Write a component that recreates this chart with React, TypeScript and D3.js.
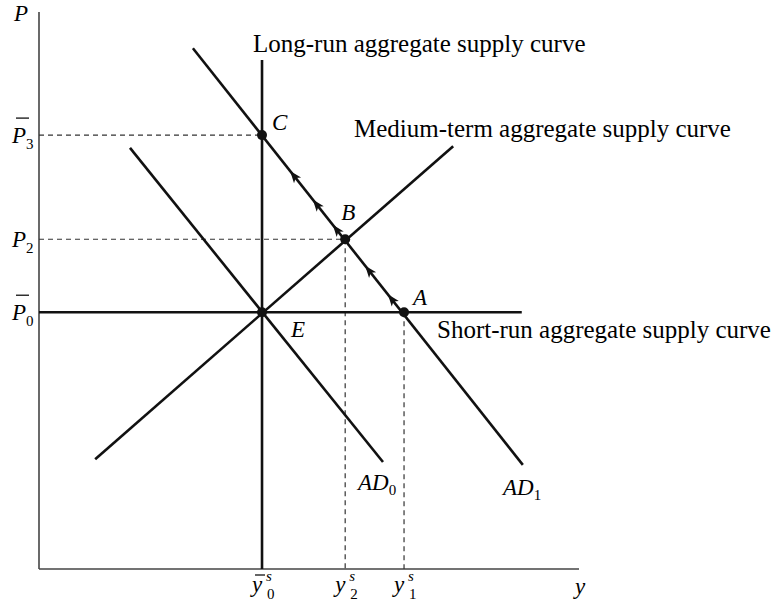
import React from 'react';
import * as d3 from 'd3';

const W = 778;
const H = 603;

// output levels (x data units)
const outputLevels = [
  { key: 'y0', value: 41.3, sub: '0', bar: true },
  { key: 'y2', value: 56.7, sub: '2', bar: false },
  { key: 'y1', value: 67.6, sub: '1', bar: false },
];
// price levels (y data units)
const priceLevels = [
  { key: 'P3', value: 77.9, sub: '3', bar: true },
  { key: 'P2', value: 59.2, sub: '2', bar: false },
  { key: 'P0', value: 46.1, sub: '0', bar: true },
];
// equilibrium points
const points = [
  { name: 'E', x: 41.3, y: 46.1, dx: 29, dy: 25 },
  { name: 'A', x: 67.6, y: 46.1, dx: 9, dy: -7 },
  { name: 'B', x: 56.7, y: 59.2, dx: -4, dy: -19 },
  { name: 'C', x: 41.3, y: 77.9, dx: 10, dy: -5 },
];
// curves (segment endpoints, data units)
const lras: [number, number][] = [[41.3, 0], [41.3, 91.4]];
const sras: [number, number][] = [[0, 46.1], [89.4, 46.1]];
const mtas: [number, number][] = [[10.4, 19.7], [76.7, 75.9]];
const ad0: [number, number][] = [[16.85, 75.6], [63.7, 19.2]];
const ad1: [number, number][] = [[28.5, 93.5], [89.6, 18.7]];
// arrow positions along AD1 (x data units)
const arrowXs = [64.6, 60.4, 54.4, 50.7, 46.5];
// dashed guides
const dashed: [number, number][][] = [
  [[0, 77.9], [41.3, 77.9]],
  [[0, 59.2], [56.7, 59.2]],
  [[56.7, 59.2], [56.7, 0]],
  [[67.6, 46.1], [67.6, 0]],
];

const SERIF = '"Liberation Serif", "Times New Roman", serif';

export default function App() {
  const x = d3.scaleLinear().domain([0, 100]).range([39, 579]);
  const y = d3.scaleLinear().domain([0, 100]).range([569, 12]);
  const line = d3
    .line<[number, number]>()
    .x((d) => x(d[0]))
    .y((d) => y(d[1]));

  const ad1At = (xv: number) => {
    const [[x0, y0], [x1, y1]] = ad1;
    return y0 + ((xv - x0) / (x1 - x0)) * (y1 - y0);
  };
  const ang =
    (Math.atan2(y(ad1[0][1]) - y(ad1[1][1]), x(ad1[0][0]) - x(ad1[1][0])) * 180) /
    Math.PI;

  const curveStyle = { stroke: '#111', strokeWidth: 2.6, fill: 'none' };

  return (
    <svg width={W} height={H} style={{ display: 'block', position: 'absolute', left: 0, top: 0 }}>
      <rect width={W} height={H} fill="#fff" />
      {/* axes */}
      <line x1={x(0)} y1={y(0)} x2={x(0)} y2={12} stroke="#444" strokeWidth={1.6} />
      <line x1={x(0)} y1={y(0)} x2={x(100)} y2={y(0)} stroke="#444" strokeWidth={1.6} />
      <text x={14} y={21} fontFamily={SERIF} fontStyle="italic" fontSize={23} fill="#000">P</text>
      <text x={575} y={594} fontFamily={SERIF} fontStyle="italic" fontSize={23} fill="#000">y</text>

      {/* dashed guides */}
      {dashed.map((d, i) => (
        <path key={i} d={line(d) || ''} stroke="#333" strokeWidth={1.2} strokeDasharray="5,4" fill="none" />
      ))}

      {/* curves */}
      <path d={line(lras) || ''} {...curveStyle} />
      <path d={line(sras) || ''} {...curveStyle} />
      <path d={line(mtas) || ''} {...curveStyle} />
      <path d={line(ad0) || ''} {...curveStyle} />
      <path d={line(ad1) || ''} {...curveStyle} />

      {/* arrows */}
      {arrowXs.map((xv, i) => (
        <path
          key={i}
          d="M0,0 L-12,-4.5 L-9,0 L-12,4.5 Z"
          fill="#111"
          transform={`translate(${x(xv)},${y(ad1At(xv))}) rotate(${ang})`}
        />
      ))}

      {/* points */}
      {points.map((p) => (
        <g key={p.name}>
          <circle cx={x(p.x)} cy={y(p.y)} r={5} fill="#111" />
          <text x={x(p.x) + p.dx} y={y(p.y) + p.dy} fontFamily={SERIF} fontStyle="italic" fontSize={23} fill="#000">
            {p.name}
          </text>
        </g>
      ))}

      {/* price tick labels */}
      {priceLevels.map((p) => {
        const py = y(p.value);
        return (
          <g key={p.key}>
            {p.bar && <line x1={16} x2={29} y1={py - 17} y2={py - 17} stroke="#111" strokeWidth={1.3} />}
            <text x={12} y={py + 8} fontFamily={SERIF} fontStyle="italic" fontSize={23} fill="#000">P</text>
            <text x={26} y={py + 14} fontFamily={SERIF} fontSize={15} fill="#000">{p.sub}</text>
          </g>
        );
      })}

      {/* output tick labels */}
      {outputLevels.map((o) => {
        const px = x(o.value);
        return (
          <g key={o.key}>
            {o.bar && <line x1={px - 7} x2={px + 3} y1={575} y2={575} stroke="#111" strokeWidth={1.3} />}
            <text x={px - 10} y={592} fontFamily={SERIF} fontStyle="italic" fontSize={23} fill="#000">y</text>
            <text x={px + 4} y={581} fontFamily={SERIF} fontStyle="italic" fontSize={15} fill="#000">s</text>
            <text x={px + 5} y={599} fontFamily={SERIF} fontSize={15} fill="#000">{o.sub}</text>
          </g>
        );
      })}

      {/* AD labels */}
      <text x={358} y={490} fontFamily={SERIF} fontSize={23} fill="#000">
        <tspan fontStyle="italic">AD</tspan>
        <tspan fontSize={15} dy={5}>0</tspan>
      </text>
      <text x={503} y={495} fontFamily={SERIF} fontSize={23} fill="#000">
        <tspan fontStyle="italic">AD</tspan>
        <tspan fontSize={15} dy={5}>1</tspan>
      </text>

      {/* curve labels */}
      <text x={253} y={52} fontFamily={SERIF} fontSize={25} fill="#000">Long-run aggregate supply curve</text>
      <text x={354} y={137} fontFamily={SERIF} fontSize={25} fill="#000">Medium-term aggregate supply curve</text>
      <text x={437} y={338} fontFamily={SERIF} fontSize={25} fill="#000">Short-run aggregate supply curve</text>
    </svg>
  );
}
